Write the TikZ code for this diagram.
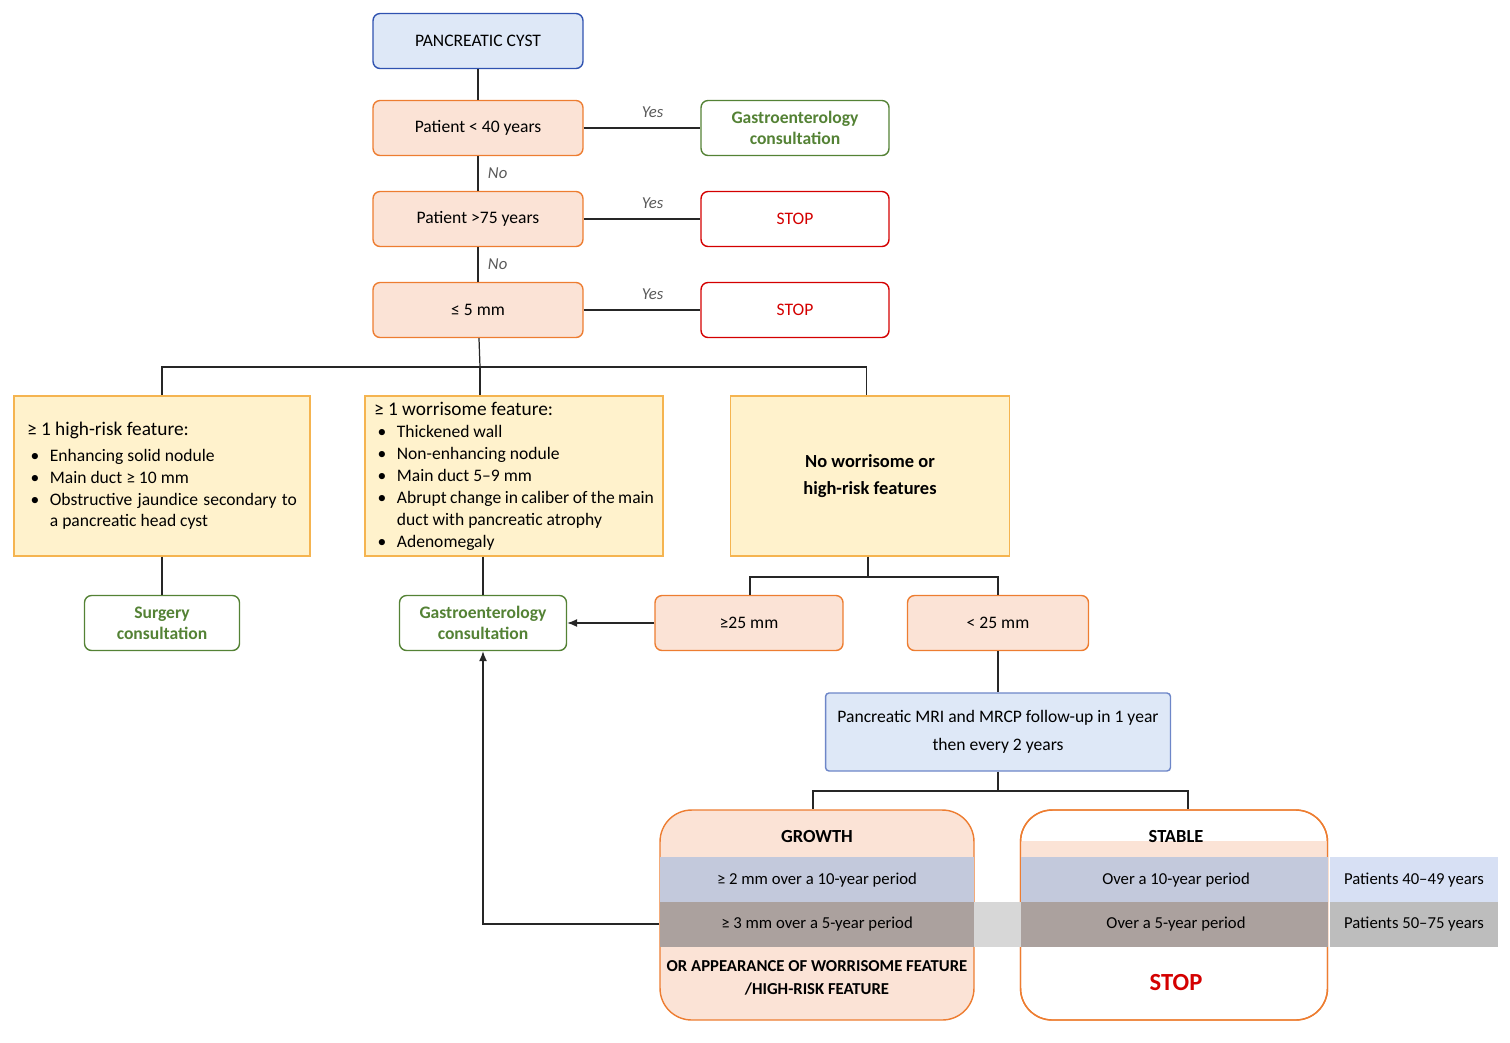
\documentclass[tikz,border=0pt]{standalone}
\usepackage{fontspec}
\setmainfont{Carlito}
\usetikzlibrary{arrows.meta,positioning}
\definecolor{peach}{HTML}{FBE3D6}
\definecolor{orangeline}{HTML}{ED7D31}
\definecolor{paleblue}{HTML}{DEE8F7}
\definecolor{blueline}{HTML}{2F52B0}
\definecolor{greenline}{HTML}{548235}
\definecolor{stopred}{HTML}{D40000}
\definecolor{lightyellow}{HTML}{FFF2CC}
\definecolor{yellowline}{HTML}{F5B450}
\definecolor{bandblue}{HTML}{C3C9DC}
\definecolor{bandgray}{HTML}{ABA19E}
\definecolor{sideblue}{HTML}{D7E0F4}
\definecolor{sidegray}{HTML}{BDBDBD}
\newcommand{\itm}[1]{\par\hangindent=1.3em\hangafter=1\makebox[1.3em][l]{\hspace{0.2em}\textbullet}#1}
\tikzset{
    % Decision boxes
    decision/.style={rectangle, rounded corners=4pt, draw=orangeline, fill=peach,
        line width=0.8pt, minimum width=4.2cm, minimum height=1.1cm, align=center,
        font=\fontsize{10}{12}\selectfont},
    % Outcome boxes
    consult/.style={rectangle, rounded corners=4pt, draw=greenline, fill=white,
        line width=0.8pt, minimum height=1.1cm, align=center,
        font=\fontsize{10}{12}\selectfont\bfseries, text=greenline},
    stopbox/.style={rectangle, rounded corners=4pt, draw=stopred, fill=white,
        line width=0.8pt, minimum width=3.76cm, minimum height=1.1cm, align=center,
        font=\fontsize{10}{12}\selectfont, text=stopred},
    % Feature boxes
    feature/.style={rectangle, draw=yellowline, fill=lightyellow, line width=0.8pt,
        minimum height=3.2cm, font=\fontsize{10}{12.5}\selectfont},
    followup/.style={rectangle, rounded corners=2pt, draw=blueline!70, fill=paleblue,
        line width=0.8pt, minimum width=6.9cm, minimum height=1.56cm, align=center,
        font=\fontsize{10}{16}\selectfont},
    result/.style={rectangle, rounded corners=18pt, draw=orangeline, line width=0.8pt,
        minimum height=4.2cm},
    answer/.style={font=\itshape\fontsize{9.5}{11}\selectfont, text=black!65},
    band text/.style={font=\fontsize{9.5}{11}\selectfont},
    link/.style={line width=0.7pt, black!85}
}
\begin{document}
\begin{tikzpicture}[x=0.02cm, y=-0.02cm]
    \useasboundingbox (0,0) rectangle (1510,1042);

    % Top chain
    \node[rectangle, rounded corners=4pt, draw=blueline, fill=paleblue, line width=0.8pt,
        minimum width=4.2cm, minimum height=1.1cm, font=\fontsize{10}{12}\selectfont] (cyst) at (478,41) {PANCREATIC CYST};
    \node[decision] (age40) at (478,128) {Patient < 40 years};
    \node[consult, minimum width=3.76cm] (gastro1) at (795,128) {Gastroenterology\\consultation};
    \node[decision] (age75) at (478,219) {Patient >75 years};
    \node[stopbox] (stop1) at (795,219) {STOP};
    \node[decision] (mm5) at (478,310) {≤ 5 mm};
    \node[stopbox] (stop2) at (795,310) {STOP};

    \draw[link] (cyst) -- (age40);
    \draw[link] (age40) -- node[answer, right=2pt] {No} (age75);
    \draw[link] (age75) -- node[answer, right=2pt] {No} (mm5);
    \draw[link] (age40) -- node[answer, above=2pt, xshift=6pt] {Yes} (gastro1);
    \draw[link] (age75) -- node[answer, above=2pt, xshift=6pt] {Yes} (stop1);
    \draw[link] (mm5) -- node[answer, above=2pt, xshift=6pt] {Yes} (stop2);

    % Features
    \node[feature, minimum width=5.92cm] (high) at (162,476) {\parbox{5.4cm}{%
        {\fontsize{11}{14}\selectfont ≥ 1 high-risk feature:}\vspace{2pt}
        \itm{Enhancing solid nodule}
        \itm{Main duct ≥ 10 mm}
        \itm{Obstructive jaundice secondary to a pancreatic head cyst}}};
    \node[feature, minimum width=5.96cm] (worry) at (514,476) {\parbox{5.6cm}{%
        {\fontsize{11}{14}\selectfont ≥ 1 worrisome feature:}
        \itm{Thickened wall}
        \itm{Non-enhancing nodule}
        \itm{Main duct 5–9 mm}
        \itm{Abrupt change in caliber of the main duct with pancreatic atrophy}
        \itm{Adenomegaly}}};
    \node[feature, minimum width=5.58cm, align=center, font=\fontsize{10.5}{15}\selectfont\bfseries] (none) at (870,476) {No worrisome or\\high-risk features};

    \coordinate (split) at (480,367);
    \draw[link] (mm5) -- (split);
    \draw[link] (split) -| (high.north);
    \draw[link] (split) -| (worry.north -| 480,0);
    \draw[link] (split) -| ([xshift=-2pt]none.north);

    % Consultations and size
    \node[consult, minimum width=3.1cm] (surgery) at (162,623) {Surgery\\consultation};
    \node[consult, minimum width=3.34cm] (gastro2) at (483,623) {Gastroenterology\\consultation};
    \node[decision, minimum width=3.76cm] (large) at (749,623) {≥25 mm};
    \node[decision, minimum width=3.62cm] (small) at (998,623) {< 25 mm};

    \draw[link] (high) -- (surgery);
    \draw[link] (worry.south -| gastro2) -- (gastro2);
    \coordinate (sizesplit) at (868,577);
    \draw[link] (none.south -| sizesplit) -- (sizesplit);
    \draw[link] (sizesplit) -| (large.north -| 750,0);
    \draw[link] (sizesplit) -| (small);
    \draw[link, -{Latex[length=2mm,width=1.6mm]}] (large) -- (gastro2);

    % Follow-up
    \node[followup] (mri) at (998,732) {Pancreatic MRI and MRCP follow-up in 1 year\\then every 2 years};
    \draw[link] (small) -- (mri);

    \node[result, fill=peach, minimum width=6.28cm] (growth) at (817,915) {};
    \node[result, fill=white, minimum width=6.14cm] (stable) at (1174,915) {};
    \fill[peach] ([xshift=0.5pt,yshift=-18pt]stable.north west) rectangle (1327.5,857);
    \begin{scope}[even odd rule]
    \end{scope}
    \node[result, minimum width=6.14cm] at (stable) {};
    \coordinate (resplit) at (998,791);
    \draw[link] (mri) -- (resplit);
    \draw[link] (resplit) -| (growth.north -| 813,0);
    \draw[link] (resplit) -| (stable.north -| 1188,0);

    % Bands
    \fill[sidegray!60] (974,902) rectangle (1021,947);
    \fill[bandblue] (660,857) rectangle (974,902);
    \fill[bandgray] (660,902) rectangle (974,947);
    \fill[bandblue] (1021,857) rectangle (1328,902);
    \fill[bandgray] (1021,902) rectangle (1328,947);
    \fill[sideblue] (1330,857) rectangle (1498,902);
    \fill[sidegray] (1330,902) rectangle (1498,947);

    \node[font=\fontsize{10.5}{12}\selectfont\bfseries] (growthtitle) at (817,836) {GROWTH};
    \node[font=\fontsize{10.5}{12}\selectfont\bfseries] (stabletitle) at (1176,836) {STABLE};
    \node[band text] (g10) at (817,880) {≥ 2 mm over a 10-year period};
    \node[band text] (g5) at (817,924) {≥ 3 mm over a 5-year period};
    \node[band text] (s10) at (1176,880) {Over a 10-year period};
    \node[band text] (s5) at (1176,924) {Over a 5-year period};
    \node[band text] (p40) at (1414,880) {Patients 40–49 years};
    \node[band text] (p50) at (1414,924) {Patients 50–75 years};
    \node[align=center, font=\fontsize{9.5}{13}\selectfont\bfseries] (appear) at (817,978) {OR APPEARANCE OF WORRISOME FEATURE\\/HIGH-RISK FEATURE};
    \node[font=\fontsize{14}{16}\selectfont\bfseries, text=stopred] (stop3) at (1176,982) {STOP};

    \draw[link, -{Latex[length=2mm,width=1.6mm]}] (g5.west -| growth.west) -| (gastro2.south);
\end{tikzpicture}
\end{document}
